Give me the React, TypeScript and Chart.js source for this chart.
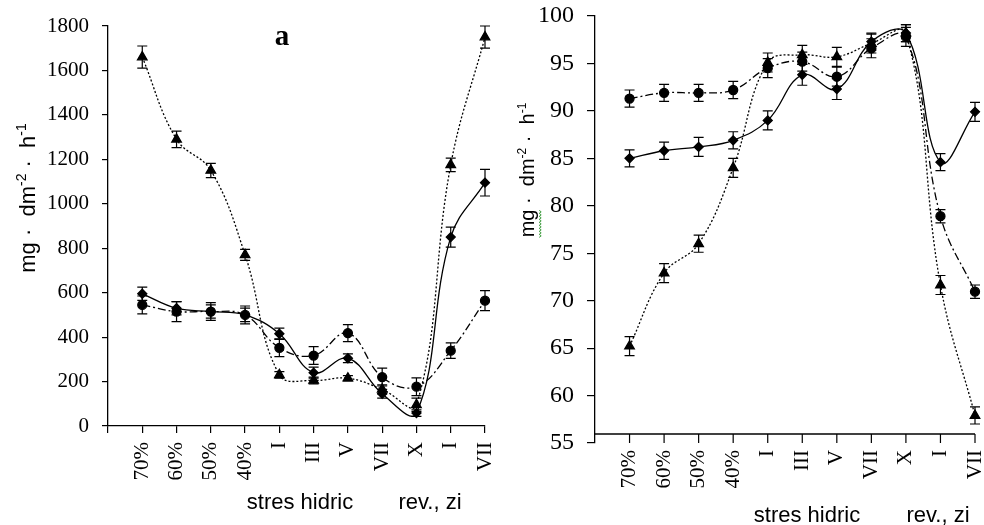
import React, { useEffect, useRef } from "react";
import { Chart, registerables } from "chart.js";

Chart.register(...registerables);

// ---------- data ----------
const categories = ["", "70%", "60%", "50%", "40%", "I", "III", "V", "VII", "X", "I", "VII"];

const leftTriangle = [null, 1660, 1290, 1150, 770, 230, 205, 215, 165, 95, 1175, 1750];
const leftTriangleErr = [0, 50, 37, 32, 25, 15, 15, 12, 20, 30, 30, 50];
const leftDiamond = [null, 595, 530, 515, 500, 415, 240, 305, 145, 58, 850, 1095];
const leftDiamondErr = [0, 30, 30, 30, 30, 25, 25, 20, 20, 15, 45, 60];
const leftCircle = [null, 545, 515, 515, 500, 352, 317, 418, 220, 177, 339, 564];
const leftCircleErr = [0, 40, 45, 40, 40, 40, 40, 38, 40, 40, 35, 45];

const rightTriangle = [null, 65.2, 72.9, 76.0, 84.0, 95.1, 95.9, 95.7, 97.1, 98.2, 71.65, 57.9];
const rightTriangleErr = [0, 1.0, 1.0, 0.9, 1.0, 1.0, 1.0, 1.0, 1.0, 0.9, 1.0, 0.9];
const rightDiamond = [null, 85.0, 85.8, 86.2, 86.9, 89.0, 93.8, 92.3, 97.3, 98.2, 84.6, 89.9];
const rightDiamondErr = [0, 0.9, 0.9, 1.0, 0.9, 1.0, 1.1, 1.1, 0.9, 0.9, 0.9, 1.0];
const rightCircle = [null, 91.3, 91.9, 91.9, 92.2, 94.5, 95.2, 93.6, 96.6, 97.8, 78.9, 70.95];
const rightCircleErr = [0, 0.9, 0.9, 0.9, 0.9, 1.0, 1.0, 1.0, 1.0, 1.0, 0.7, 0.7];

const leftYTicks = { min: 0, max: 1800, step: 200 };
const rightYTicks = { min: 55, max: 100, step: 5 };

const SERIF = '"Liberation Serif", "Times New Roman", serif';
const SANS = '"Liberation Sans", Arial, "DejaVu Sans", sans-serif';

// ---------- helpers ----------
function makeDatasets(tri: any[], triErr: number[], dia: any[], diaErr: number[], cir: any[], cirErr: number[]) {
  const base = {
    borderColor: "#000",
    backgroundColor: "#000",
    pointBorderColor: "#000",
    pointBackgroundColor: "#000",
    borderWidth: 1.3,
    tension: 0.4,
    fill: false,
  };
  return [
    { ...base, label: "c", data: cir, errors: cirErr, borderDash: [8, 3, 2, 3], pointStyle: "circle", pointRadius: 4.5 },
    { ...base, label: "t", data: tri, errors: triErr, borderDash: [2, 2], pointStyle: "triangle", pointRadius: 5.5 },
    { ...base, label: "d", data: dia, errors: diaErr, borderDash: [], pointStyle: "rectRot", pointRadius: 4.5 },
  ];
}

const errorBarPlugin = {
  id: "errbars",
  afterDatasetsDraw(chart: any) {
    const ctx = chart.ctx;
    const y = chart.scales.y;
    ctx.save();
    ctx.strokeStyle = "#000";
    ctx.lineWidth = 1.2;
    ctx.setLineDash([]);
    chart.data.datasets.forEach((ds: any, di: number) => {
      const meta = chart.getDatasetMeta(di);
      meta.data.forEach((pt: any, i: number) => {
        const v = ds.data[i];
        const e = ds.errors ? ds.errors[i] : 0;
        if (v == null || !e) return;
        const x = pt.x;
        const y1 = y.getPixelForValue(v + e);
        const y2 = y.getPixelForValue(v - e);
        ctx.beginPath();
        ctx.moveTo(x, y1);
        ctx.lineTo(x, y2);
        ctx.moveTo(x - 5, y1);
        ctx.lineTo(x + 5, y1);
        ctx.moveTo(x - 5, y2);
        ctx.lineTo(x + 5, y2);
        ctx.stroke();
      });
    });
    ctx.restore();
  },
};

function drawUnitTitle(ctx: CanvasRenderingContext2D, cx: number, cy: number, size: number, squiggle: boolean) {
  const parts: [string, boolean][] = [
    ["mg", false],
    [" \u00B7  ", false],
    ["dm", false],
    ["-2", true],
    [" \u00B7  ", false],
    ["h", false],
    ["-1", true],
  ];
  const mainFont = `${size}px ${SANS}`;
  const supFont = `${Math.round(size * 0.62)}px ${SANS}`;
  ctx.save();
  let total = 0;
  const widths = parts.map(([t, sup]) => {
    ctx.font = sup ? supFont : mainFont;
    const w = ctx.measureText(t).width;
    total += w;
    return w;
  });
  ctx.translate(cx, cy);
  ctx.rotate(-Math.PI / 2);
  ctx.fillStyle = "#000";
  ctx.textBaseline = "alphabetic";
  ctx.textAlign = "left";
  const base = size * 0.36;
  let x = -total / 2;
  parts.forEach(([t, sup], i) => {
    ctx.font = sup ? supFont : mainFont;
    ctx.fillText(t, x, sup ? base - size * 0.42 : base);
    if (i === 0 && squiggle) {
      ctx.save();
      ctx.strokeStyle = "#3b9a3b";
      ctx.lineWidth = 1;
      ctx.beginPath();
      const yy = base + size * 0.3;
      let k = 0;
      for (let xx = x; xx <= x + widths[0]; xx += 1.5) {
        const py = yy + (k % 2 === 0 ? -1 : 1);
        if (k === 0) ctx.moveTo(xx, py);
        else ctx.lineTo(xx, py);
        k++;
      }
      ctx.stroke();
      ctx.restore();
    }
    x += widths[i];
  });
  ctx.restore();
}

function drawText(ctx: CanvasRenderingContext2D, text: string, x: number, y: number, font: string) {
  ctx.save();
  ctx.font = font;
  ctx.fillStyle = "#000";
  ctx.textAlign = "center";
  ctx.textBaseline = "middle";
  ctx.fillText(text, x, y);
  ctx.restore();
}

function zeroPad(s: any) {
  s.paddingTop = 0;
  s.paddingBottom = 0;
  s.paddingLeft = 0;
  s.paddingRight = 0;
}

function xScale(tickLen: number, padding: number, showGrid: boolean, height: number) {
  return {
    type: "category" as const,
    offset: false,
    grid: { display: showGrid, drawOnChartArea: false, tickLength: tickLen, color: "#000", lineWidth: 1.2 },
    border: { display: showGrid, color: "#000", width: 1.3 },
    ticks: {
      autoSkip: false,
      minRotation: 90,
      maxRotation: 90,
      padding,
      color: "#000",
      font: { family: SERIF, size: 21 },
    },
    afterFit: (s: any) => {
      s.height = height;
      zeroPad(s);
    },
  };
}

function yScale(t: { min: number; max: number; step: number }, size: number, tickLen: number, padding: number, width: number) {
  return {
    min: t.min,
    max: t.max,
    grid: { display: true, drawOnChartArea: false, tickLength: tickLen, color: "#000", lineWidth: 1.2 },
    border: { display: true, color: "#000", width: 1.3 },
    ticks: {
      stepSize: t.step,
      padding,
      color: "#000",
      font: { family: SERIF, size },
      callback: (v: any) => String(v),
    },
    afterFit: (s: any) => {
      s.width = width;
      zeroPad(s);
    },
  };
}

export default function App() {
  const leftRef = useRef<HTMLCanvasElement>(null);
  const rightRef = useRef<HTMLCanvasElement>(null);

  useEffect(() => {
    const leftText = {
      id: "leftText",
      afterDraw(chart: any) {
        const ctx = chart.ctx;
        drawText(ctx, "a", 282, 38, `bold 29px ${SERIF}`);
        drawUnitTitle(ctx, 27, 198, 22, false);
        drawText(ctx, "stres hidric", 300, 503, `22px ${SANS}`);
        drawText(ctx, "rev., zi", 430, 503, `22px ${SANS}`);
      },
    };
    const rightText = {
      id: "rightText",
      afterDraw(chart: any) {
        const ctx = chart.ctx;
        const area = chart.chartArea;
        const xs = chart.scales.x;
        const lineY = area.bottom - 9;
        ctx.save();
        ctx.strokeStyle = "#000";
        ctx.lineWidth = 1.3;
        ctx.beginPath();
        ctx.moveTo(area.left, lineY);
        ctx.lineTo(area.right, lineY);
        ctx.stroke();
        ctx.lineWidth = 1.2;
        for (let i = 1; i < categories.length; i++) {
          const px = xs.getPixelForValue(i);
          ctx.beginPath();
          ctx.moveTo(px, lineY);
          ctx.lineTo(px, area.bottom);
          ctx.stroke();
        }
        ctx.restore();
        drawUnitTitle(ctx, 35, 170, 20, true);
        drawText(ctx, "stres hidric", 315, 516, `22px ${SANS}`);
        drawText(ctx, "rev., zi", 446, 516, `22px ${SANS}`);
      },
    };

    const left = new Chart(leftRef.current!, {
      type: "line",
      data: {
        labels: categories,
        datasets: makeDatasets(leftTriangle, leftTriangleErr, leftDiamond, leftDiamondErr, leftCircle, leftCircleErr) as any,
      },
      options: {
        responsive: false,
        animation: false,
        layout: { padding: { left: 0, right: 7, top: 26, bottom: 0 } },
        plugins: { legend: { display: false }, tooltip: { enabled: false } },
        scales: {
          x: xScale(7, 9, true, 99) as any,
          y: yScale(leftYTicks, 21, 6, 13, 108) as any,
        },
      },
      plugins: [errorBarPlugin, leftText],
    });

    const right = new Chart(rightRef.current!, {
      type: "line",
      data: {
        labels: categories,
        datasets: makeDatasets(rightTriangle, rightTriangleErr, rightDiamond, rightDiamondErr, rightCircle, rightCircleErr) as any,
      },
      options: {
        responsive: false,
        animation: false,
        layout: { padding: { left: 0, right: 9, top: 16, bottom: 0 } },
        plugins: { legend: { display: false }, tooltip: { enabled: false } },
        scales: {
          x: xScale(0, 7, false, 82) as any,
          y: yScale(rightYTicks, 24, 8, 13, 103) as any,
        },
      },
      plugins: [errorBarPlugin, rightText],
    });

    return () => {
      left.destroy();
      right.destroy();
    };
  }, []);

  return (
    <div style={{ position: "absolute", left: 0, top: 0, width: 984, height: 525, background: "#fff", overflow: "hidden" }}>
      <canvas ref={leftRef} width={492} height={525} style={{ position: "absolute", left: 0, top: 0 }} />
      <canvas ref={rightRef} width={492} height={525} style={{ position: "absolute", left: 492, top: 0 }} />
    </div>
  );
}
